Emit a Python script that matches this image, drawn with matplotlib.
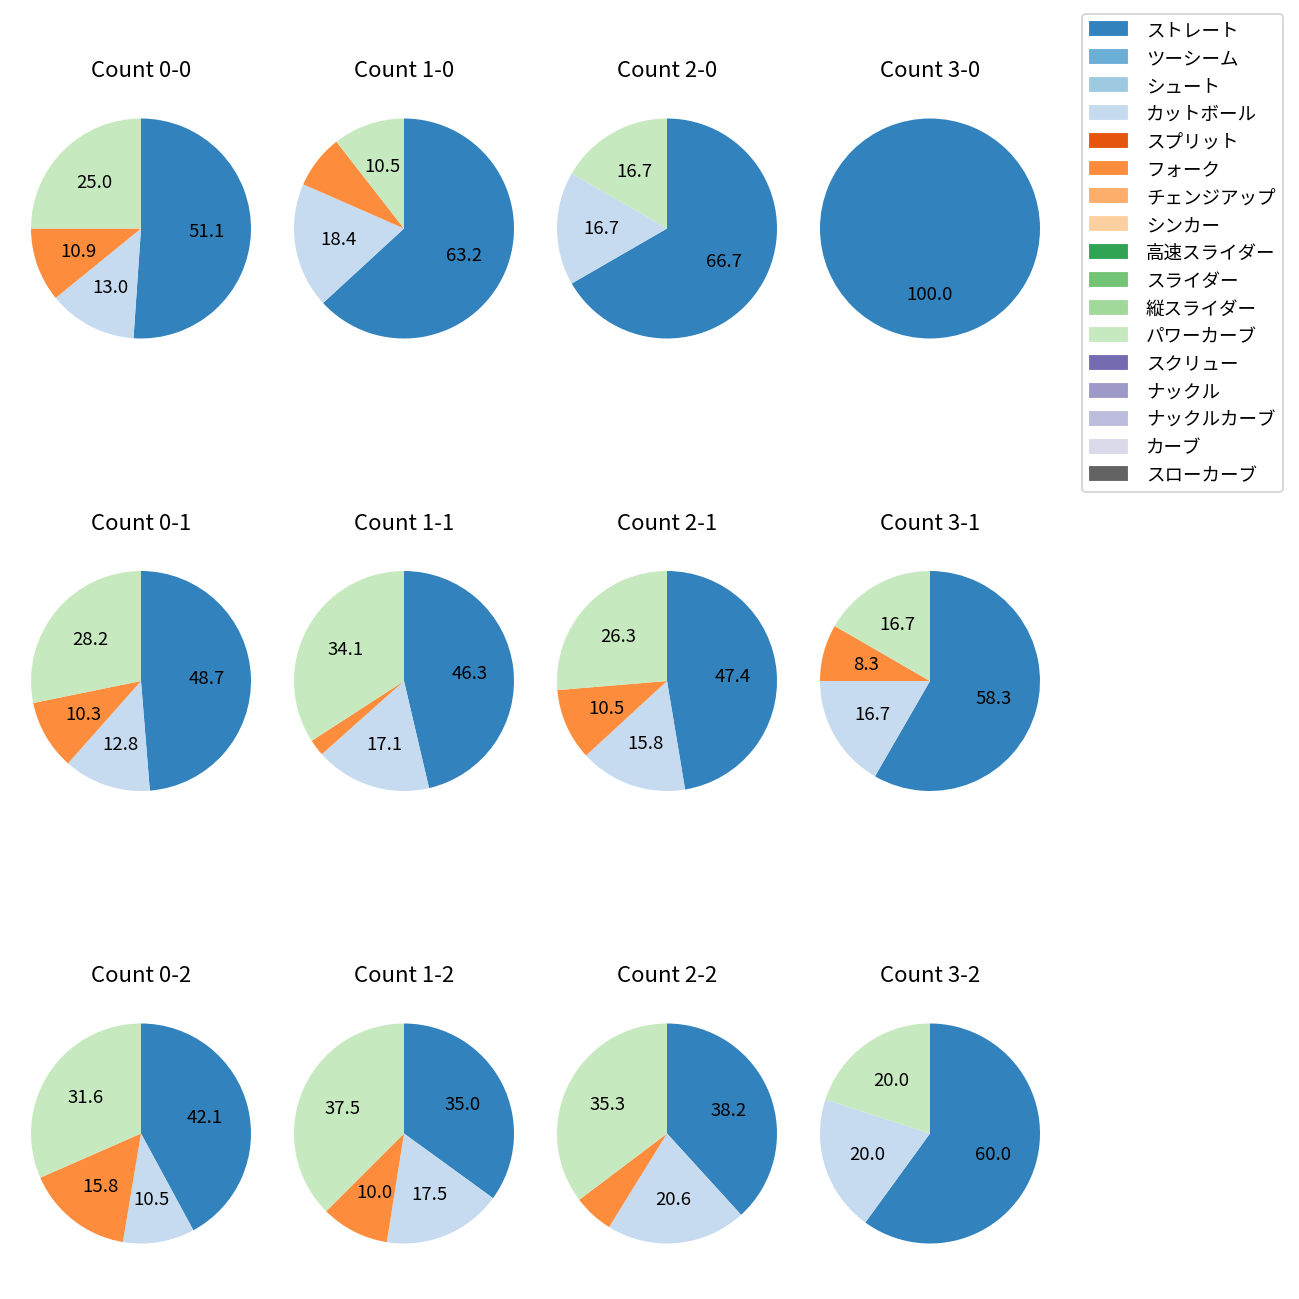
import matplotlib
matplotlib.use("Agg")
import matplotlib.pyplot as plt
from matplotlib.patches import Patch

plt.rcParams['font.family'] = ['Noto Sans CJK JP', 'DejaVu Sans']

pitch_names = ['ストレート', 'ツーシーム', 'シュート', 'カットボール', 'スプリット', 'フォーク',
               'チェンジアップ', 'シンカー', '高速スライダー', 'スライダー', '縦スライダー',
               'パワーカーブ', 'スクリュー', 'ナックル', 'ナックルカーブ', 'カーブ', 'スローカーブ']
cmap = plt.get_cmap('tab20c')
pitch_colors = [cmap(i) for i in range(16)] + ['#636363']

# pitch counts per ball-strike count: [ストレート, カットボール, フォーク, パワーカーブ]
used = ['ストレート', 'カットボール', 'フォーク', 'パワーカーブ']
counts = {
    '0-0': [47, 12, 10, 23],
    '1-0': [24, 7, 3, 4],
    '2-0': [4, 1, 0, 1],
    '3-0': [1, 0, 0, 0],
    '0-1': [19, 5, 4, 11],
    '1-1': [19, 7, 1, 14],
    '2-1': [9, 3, 2, 5],
    '3-1': [7, 2, 1, 2],
    '0-2': [8, 2, 3, 6],
    '1-2': [14, 7, 4, 15],
    '2-2': [13, 7, 2, 12],
    '3-2': [3, 1, 0, 1],
}
balls = ['0', '1', '2', '3']
strikes = ['0', '1', '2']

fig = plt.figure(figsize=(9.75, 9.75), dpi=133.333)
W, H = 1300.0, 1300.0
box = 275.0
for r, s in enumerate(strikes):
    for c, b in enumerate(balls):
        cx = 141 + c * 263
        cy = 229.5 + r * 452.5
        ax = fig.add_axes([(cx - box / 2) / W, 1 - (cy + box / 2) / H, box / W, box / H])
        key = b + '-' + s
        vals = []
        cols = []
        for name, v in zip(used, counts[key]):
            if v > 0:
                vals.append(v)
                cols.append(pitch_colors[pitch_names.index(name)])
        ax.pie(vals, colors=cols, startangle=90, counterclock=False,
               autopct=lambda p: '%.1f' % p if p >= 8 else '')
        ax.set_title('Count ' + key, pad=8)

handles = [Patch(color=pitch_colors[i]) for i in range(len(pitch_names))]
fig.legend(handles, pitch_names, loc='upper right', borderaxespad=0,
           labelspacing=0.53, handletextpad=1.05,
           bbox_to_anchor=(1283 / W, 1 - 15 / H))

plt.savefig('out.png', dpi=133.333)
